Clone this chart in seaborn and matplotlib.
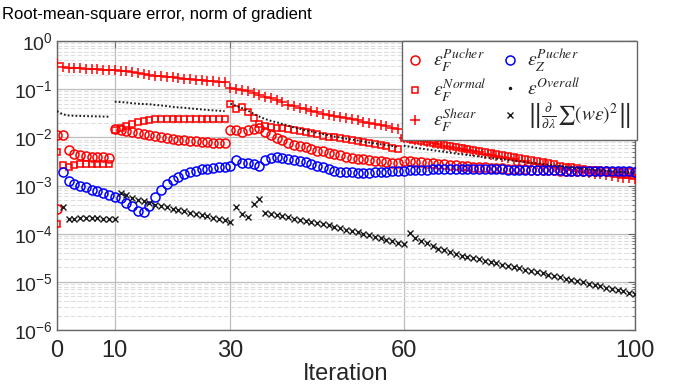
import numpy as np
import pandas as pd
import matplotlib
matplotlib.use("Agg")
import matplotlib.pyplot as plt
import seaborn as sns
from matplotlib.lines import Line2D
from matplotlib.ticker import FixedLocator, NullFormatter, LogFormatterSciNotation
from matplotlib import font_manager

# ---------------- data ----------------
TITLE = "Root-mean-square error, norm of gradient"
XLABEL = "Iteration"
XTICKS = [0, 10, 30, 60, 100]
YTICKS = [1e-6, 1e-5, 1e-4, 1e-3, 1e-2, 1e-1, 1e0]

# eps_F^Pucher (red circles); two values at iteration 0
fp_it0 = [3.2e-4, 0.011]
fp_s1 = [0.011, 5.4e-3, 4.5e-3, 4.2e-3, 4.1e-3, 4.0e-3, 3.9e-3, 3.85e-3, 3.8e-3]
fp_s2 = [0.0148, 0.0143, 0.0137, 0.0130, 0.0123, 0.0117, 0.0111, 0.0106, 0.0102, 0.0098,
         0.0094, 0.0090, 0.0087, 0.0085, 0.0083, 0.0081, 0.0079, 0.0078, 0.0077, 0.0075]
fp_s3 = [0.0143, 0.0139, 0.0126, 0.0143, 0.0150, 0.0155, 0.0132, 0.0113, 0.0096, 0.0089,
         0.0078, 0.0070, 0.0065, 0.0062, 0.0057, 0.0053, 0.0051, 0.0047, 0.0045, 0.0042,
         0.0040, 0.0038, 0.0036, 0.0035, 0.0034, 0.0033, 0.0032, 0.0031, 0.0030, 0.0029]
fp_s4 = [0.0032, 0.00315, 0.0031, 0.00303, 0.00295, 0.00288, 0.0028, 0.00274, 0.00268, 0.00262,
         0.00257, 0.00252, 0.00247, 0.00242, 0.00238, 0.00234, 0.0023, 0.00227, 0.00224, 0.00221,
         0.00218, 0.00216, 0.00214, 0.00212, 0.0021, 0.00208, 0.00206, 0.00204, 0.00203, 0.00202,
         0.00201, 0.0020, 0.00199, 0.00198, 0.00197, 0.00196, 0.00195, 0.00195, 0.00194, 0.00194,
         0.00193]

# eps_F^Normal (red squares); two values at iteration 0
fn_it0 = [1.6e-4, 4.9e-3]
fn_s1 = [2.7e-3, 2.45e-3, 2.7e-3, 2.75e-3, 2.78e-3, 2.8e-3, 2.8e-3, 2.8e-3, 2.8e-3]
fn_s2 = [0.0143, 0.0155, 0.0168, 0.0187, 0.0206, 0.0220, 0.0230, 0.0235, 0.0238, 0.0240,
         0.0241, 0.0242, 0.0242, 0.0243, 0.0243, 0.0243, 0.0244, 0.0244, 0.0244, 0.0245]
fn_s3 = [0.0488, 0.0384, 0.0420, 0.0333, 0.0250, 0.0190, 0.0168, 0.0162, 0.0160, 0.0155,
         0.0148, 0.0139, 0.0134, 0.0128, 0.0122, 0.0116, 0.0109, 0.0104, 0.0101, 0.0096,
         0.0092, 0.0089, 0.0085, 0.0081, 0.0076, 0.0072, 0.0068, 0.0065, 0.0061, 0.0057]
fn_s4 = [9.6e-3, 9.2e-3, 8.8e-3, 8.4e-3, 8.0e-3, 7.6e-3, 7.3e-3, 7.0e-3, 6.7e-3, 6.4e-3,
         6.1e-3, 5.8e-3, 5.5e-3, 5.2e-3, 4.95e-3, 4.7e-3, 4.5e-3, 4.3e-3, 4.1e-3, 3.9e-3,
         3.7e-3, 3.5e-3, 3.35e-3, 3.2e-3, 3.05e-3, 2.9e-3, 2.75e-3, 2.6e-3, 2.48e-3, 2.37e-3,
         2.28e-3, 2.2e-3, 2.13e-3, 2.07e-3, 2.02e-3, 1.98e-3, 1.96e-3, 1.94e-3, 1.93e-3, 1.92e-3,
         1.92e-3]

# eps_F^Shear (red plus), iterations 0..100
fs_s1 = [0.35, 0.29, 0.28, 0.275, 0.271, 0.267, 0.263, 0.26, 0.256, 0.252]
fs_s2 = [0.248, 0.243, 0.235, 0.225, 0.215, 0.206, 0.198, 0.19, 0.185, 0.18,
         0.175, 0.17, 0.166, 0.162, 0.158, 0.154, 0.15, 0.146, 0.142, 0.139]
fs_s3 = [0.105, 0.1, 0.097, 0.092, 0.085, 0.077, 0.07, 0.065, 0.059, 0.053,
         0.048, 0.044, 0.041, 0.038, 0.036, 0.033, 0.031, 0.0295, 0.028, 0.0265,
         0.025, 0.0237, 0.0225, 0.0213, 0.0202, 0.0191, 0.018, 0.017, 0.016, 0.015]
fs_s4 = [9.8e-3, 9.3e-3, 8.8e-3, 8.3e-3, 7.9e-3, 7.5e-3, 7.1e-3, 6.7e-3, 6.3e-3, 6.0e-3,
         5.7e-3, 5.4e-3, 5.1e-3, 4.85e-3, 4.6e-3, 4.35e-3, 4.1e-3, 3.9e-3, 3.7e-3, 3.5e-3,
         3.3e-3, 3.15e-3, 3.0e-3, 2.85e-3, 2.7e-3, 2.57e-3, 2.45e-3, 2.33e-3, 2.22e-3, 2.12e-3,
         2.02e-3, 1.93e-3, 1.85e-3, 1.77e-3, 1.7e-3, 1.63e-3, 1.56e-3, 1.5e-3, 1.45e-3, 1.4e-3,
         1.35e-3]

# eps_Z^Pucher (blue circles), iterations 1..100
zp_s1 = [1.87e-3, 1.22e-3, 1.1e-3, 1.0e-3, 9.1e-4, 8.2e-4, 7.6e-4, 6.9e-4, 6.3e-4]
zp_s2 = [5.85e-4, 5.4e-4, 4.4e-4, 3.7e-4, 3.0e-4, 2.8e-4, 3.7e-4, 5.7e-4, 8.2e-4, 1.07e-3,
         1.29e-3, 1.5e-3, 1.7e-3, 1.87e-3, 2.0e-3, 2.15e-3, 2.25e-3, 2.35e-3, 2.42e-3, 2.48e-3]
zp_s3 = [2.5e-3, 3.4e-3, 3.0e-3, 2.9e-3, 2.75e-3, 2.5e-3, 3.4e-3, 3.8e-3, 3.85e-3, 3.7e-3,
         3.55e-3, 3.4e-3, 3.3e-3, 3.05e-3, 2.8e-3, 2.6e-3, 2.4e-3, 2.2e-3, 2.02e-3, 1.95e-3,
         1.9e-3, 1.87e-3, 1.85e-3, 1.85e-3, 1.86e-3, 1.88e-3, 1.9e-3, 1.93e-3, 1.97e-3, 2.0e-3]
zp_s4 = [2.04e-3, 2.07e-3, 2.1e-3, 2.12e-3, 2.14e-3, 2.16e-3, 2.18e-3, 2.19e-3, 2.2e-3, 2.2e-3,
         2.2e-3, 2.2e-3, 2.19e-3, 2.19e-3, 2.18e-3, 2.17e-3, 2.16e-3, 2.15e-3, 2.14e-3, 2.13e-3,
         2.12e-3, 2.11e-3, 2.1e-3, 2.09e-3, 2.08e-3, 2.07e-3, 2.06e-3, 2.05e-3, 2.04e-3, 2.03e-3,
         2.02e-3, 2.01e-3, 2.0e-3, 2.0e-3, 1.99e-3, 1.98e-3, 1.98e-3, 1.97e-3, 1.96e-3, 1.96e-3,
         1.95e-3]

# eps^Overall (black dots), iterations 0..100
ov_s1 = [0.035, 0.030, 0.0285, 0.028, 0.0278, 0.0276, 0.0274, 0.0272, 0.027, 0.0268]
ov_s2 = [0.055, 0.054, 0.053, 0.051, 0.05, 0.049, 0.0487, 0.047, 0.046, 0.0445,
         0.043, 0.0418, 0.0412, 0.04, 0.039, 0.038, 0.037, 0.0363, 0.0357, 0.035]
ov_s3 = [0.05, 0.045, 0.0405, 0.036, 0.031, 0.027, 0.024, 0.022, 0.0205, 0.019,
         0.0175, 0.016, 0.015, 0.014, 0.0132, 0.0124, 0.0117, 0.011, 0.0104, 0.0099,
         0.0094, 0.009, 0.0086, 0.0082, 0.0078, 0.0075, 0.0072, 0.0069, 0.0066, 0.0063]
ov_s4 = [6.7e-3, 6.4e-3, 6.1e-3, 5.85e-3, 5.6e-3, 5.4e-3, 5.2e-3, 5.0e-3, 4.8e-3, 4.6e-3,
         4.45e-3, 4.3e-3, 4.15e-3, 4.0e-3, 3.85e-3, 3.72e-3, 3.6e-3, 3.5e-3, 3.38e-3, 3.27e-3,
         3.17e-3, 3.07e-3, 2.97e-3, 2.88e-3, 2.79e-3, 2.7e-3, 2.62e-3, 2.54e-3, 2.46e-3, 2.38e-3,
         2.31e-3, 2.24e-3, 2.17e-3, 2.11e-3, 2.05e-3, 2.0e-3, 1.96e-3, 1.92e-3, 1.89e-3, 1.86e-3,
         1.84e-3]

# gradient norm (black x), iterations 1..100
gr_s1 = [3.5e-4, 2.0e-4, 2.05e-4, 2.08e-4, 2.1e-4, 2.1e-4, 2.08e-4, 2.05e-4, 2.02e-4, 2.0e-4]
gr_s2 = [7.0e-4, 6.2e-4, 5.6e-4, 5.1e-4, 4.7e-4, 4.3e-4, 4.0e-4, 3.7e-4, 3.5e-4, 3.3e-4,
         3.1e-4, 2.9e-4, 2.75e-4, 2.6e-4, 2.45e-4, 2.3e-4, 2.15e-4, 2.0e-4, 1.9e-4, 1.75e-4]
gr_s3 = [3.5e-4, 2.5e-4, 2.2e-4, 4.1e-4, 5.3e-4, 2.7e-4, 2.5e-4, 2.4e-4, 2.3e-4, 2.2e-4,
         2.04e-4, 1.95e-4, 1.86e-4, 1.75e-4, 1.66e-4, 1.58e-4, 1.48e-4, 1.38e-4, 1.3e-4, 1.22e-4,
         1.14e-4, 1.07e-4, 1.0e-4, 9.3e-5, 8.7e-5, 8.1e-5, 7.5e-5, 7.0e-5, 6.5e-5, 6.0e-5]
gr_s4 = [1.03e-4, 8.1e-5, 6.9e-5, 6.3e-5, 5.5e-5, 4.9e-5, 4.5e-5, 4.1e-5, 3.7e-5, 3.5e-5,
         3.29e-5, 3.1e-5, 2.91e-5, 2.74e-5, 2.58e-5, 2.43e-5, 2.28e-5, 2.15e-5, 2.02e-5, 1.9e-5,
         1.79e-5, 1.68e-5, 1.58e-5, 1.49e-5, 1.4e-5, 1.32e-5, 1.24e-5, 1.17e-5, 1.1e-5, 1.03e-5,
         9.7e-6, 9.2e-6, 8.6e-6, 8.1e-6, 7.6e-6, 7.2e-6, 6.8e-6, 6.4e-6, 6.0e-6, 5.6e-6]

LABELS = [r"$\varepsilon_F^{Pucher}$", r"$\varepsilon_F^{Normal}$", r"$\varepsilon_F^{Shear}$",
          r"$\varepsilon_Z^{Pucher}$", r"$\varepsilon^{Overall}$",
          r"$\left\|\frac{\partial}{\partial\lambda}\sum(w\varepsilon)^2\right\|$"]


def frame(name, segments):
    rows = []
    for stage, (start, vals) in enumerate(segments):
        for k, v in enumerate(vals):
            rows.append((name, stage, start + k, v))
    return pd.DataFrame(rows, columns=["series", "stage", "iteration", "value"])


df_fp = frame("fp", [(0, [fp_it0[0]]), (0, [fp_it0[1]]), (1, fp_s1), (10, fp_s2), (30, fp_s3), (60, fp_s4)])
df_fn = frame("fn", [(0, [fn_it0[0]]), (0, [fn_it0[1]]), (1, fn_s1), (10, fn_s2), (30, fn_s3), (60, fn_s4)])
df_fs = frame("fs", [(0, fs_s1), (10, fs_s2), (30, fs_s3), (60, fs_s4)])
df_zp = frame("zp", [(1, zp_s1), (10, zp_s2), (30, zp_s3), (60, zp_s4)])
df_ov = frame("ov", [(0, ov_s1), (10, ov_s2), (30, ov_s3), (60, ov_s4)])
df_gr = frame("gr", [(1, gr_s1), (11, gr_s2), (31, gr_s3), (61, gr_s4)])

# ---------------- style ----------------
sns.set_theme(style="white")
names = {f.name for f in font_manager.fontManager.ttflist}
SANS = "Liberation Sans"
NARROW = "Liberation Sans Narrow" if "Liberation Sans Narrow" in names else SANS
plt.rcParams["font.family"] = [SANS, "DejaVu Sans"]
plt.rcParams["mathtext.fontset"] = "stix"

RED = "#ff0000"
BLUE = "#0000ff"
BLK = "#1a1a1a"

fig = plt.figure(figsize=(6.81, 3.86), dpi=100)
ax = fig.add_axes([57 / 681, 56 / 386, 578 / 681, 289 / 386])

common = dict(ax=ax, x="iteration", y="value", estimator=None, sort=False, legend=False)

sns.lineplot(data=df_fp, **common, color=RED, linestyle="", marker="o", markersize=6.5,
             markerfacecolor="none", markeredgecolor=RED, markeredgewidth=1.1, zorder=3)
sns.lineplot(data=df_fn, **common, color=RED, linestyle="", marker="s", markersize=5.0,
             markerfacecolor="none", markeredgecolor=RED, markeredgewidth=1.1, zorder=3)
sns.lineplot(data=df_fs, **common, color=RED, linestyle="", marker="+", markersize=6.5,
             markeredgecolor=RED, markeredgewidth=1.1, zorder=3)
sns.lineplot(data=df_zp, **common, color=BLUE, linestyle="", marker="o", markersize=6.5,
             markerfacecolor="none", markeredgecolor=BLUE, markeredgewidth=1.1, zorder=3)
for st, sub in df_ov.groupby("stage"):
    sns.lineplot(data=sub, **common, color=BLK, linewidth=1.4, linestyle=(0, (0.9, 1.1)), zorder=3)
sns.lineplot(data=df_gr, **common, color=BLK, linestyle="", marker="x", markersize=4.2,
             markeredgecolor=BLK, markeredgewidth=1.0, zorder=3)

# axes
ax.set_yscale("log")
ax.set_xlim(0, 100)
ax.set_ylim(1e-6, 1)
ax.xaxis.set_major_locator(FixedLocator(XTICKS))
ax.yaxis.set_major_locator(FixedLocator(YTICKS))
ax.yaxis.set_major_formatter(LogFormatterSciNotation(base=10))
minor_y = [m * 10.0 ** e for e in range(-6, 0) for m in range(2, 10)]
ax.yaxis.set_minor_locator(FixedLocator(minor_y))
ax.yaxis.set_minor_formatter(NullFormatter())

ax.grid(True, which="major", axis="both", color="#bdbdbd", linewidth=0.9, linestyle="-")
ax.grid(True, which="minor", axis="y", color="#dedede", linewidth=0.8, linestyle=(0, (4, 2)))
ax.set_axisbelow(True)

for sp in ax.spines.values():
    sp.set_color("#666666")
    sp.set_linewidth(1.0)
ax.tick_params(which="both", direction="in", top=True, right=True, color="#666666")
ax.tick_params(which="major", length=5, width=0.8)
ax.tick_params(which="minor", length=2.5, width=0.6)
ax.tick_params(axis="x", labelsize=17, pad=7)
ax.tick_params(axis="y", labelsize=14, pad=3)
for lab in ax.get_xticklabels():
    lab.set_family([NARROW, "DejaVu Sans"])

ax.set_xlabel(XLABEL, fontsize=17, family=[NARROW, "DejaVu Sans"], labelpad=1)
ax.set_ylabel("")
fig.text(2 / 681, 1 - 15 / 386, TITLE, fontsize=12, ha="left", va="center", color="black")

# legend
handles = [
    Line2D([], [], linestyle="", marker="o", markersize=6.5, markerfacecolor="none",
           markeredgecolor=RED, markeredgewidth=1.1),
    Line2D([], [], linestyle="", marker="s", markersize=5.0, markerfacecolor="none",
           markeredgecolor=RED, markeredgewidth=1.1),
    Line2D([], [], linestyle="", marker="+", markersize=6.5, markeredgecolor=RED,
           markeredgewidth=1.1),
    Line2D([], [], linestyle="", marker="o", markersize=6.5, markerfacecolor="none",
           markeredgecolor=BLUE, markeredgewidth=1.1),
    Line2D([], [], linestyle="", marker=".", markersize=3, color=BLK),
    Line2D([], [], linestyle="", marker="x", markersize=4.2, markeredgecolor=BLK,
           markeredgewidth=1.0),
]
leg = ax.legend(handles, LABELS, ncol=2, loc="upper right", bbox_to_anchor=(1.003, 1.0),
                borderaxespad=0, frameon=True, fancybox=False, framealpha=1,
                edgecolor="#666666", fontsize=14, handlelength=0.8, handletextpad=0.5,
                columnspacing=0.8, labelspacing=0.16, borderpad=0.3)
leg.get_frame().set_linewidth(1.0)
leg.set_zorder(10)

fig.savefig("out.png", dpi=100)
